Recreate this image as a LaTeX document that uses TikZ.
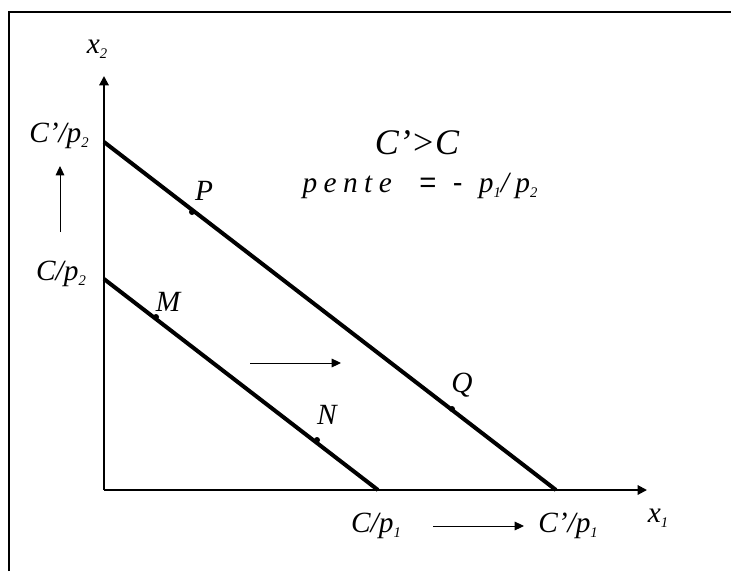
\documentclass[tikz,border=0pt]{standalone}
\usepackage{fontspec}
\setmainfont{Liberation Serif}
\newfontfamily\spacedfont[LetterSpace=22]{Liberation Serif}
\newfontfamily\signfont{Liberation Sans}
\usetikzlibrary{arrows.meta}
\newcommand{\lowidx}[1]{\raisebox{-0.35ex}{\fontsize{11}{11}\selectfont #1}}
\begin{document}
\begin{tikzpicture}[x=0.75pt, y=-0.75pt,
			lab/.style={inner sep=0pt, font=\fontsize{22}{24}\selectfont\itshape},
			axis/.style={line width=1.5pt, -{Triangle[length=7pt, width=7pt]}},
			budget/.style={line width=3pt},
			movearrow/.style={line width=0.75pt, -{Triangle[length=7pt, width=6.5pt]}},
			pt/.style={circle, fill, inner sep=0pt, minimum size=4.5pt}]

		\useasboundingbox (0,0) rectangle (731,571);

		% ===== ramka =====
		\draw[line width=2pt] (9,571) -- (9,12) -- (731,12);

		% ===== osie =====
		\coordinate (O) at (104,490);
		\coordinate (Y) at (104,76);
		\coordinate (X) at (647,490);
		\draw[axis] (O) -- (Y);
		\draw[axis] (O) -- (X);
		\node[lab] (x2) at (97,49) {x\lowidx{2}};
		\node[lab] (x1) at (658,518) {x\lowidx{1}};

		% ===== proste budzetowe =====
		\coordinate (A1) at (104,279);
		\coordinate (B1) at (378,490);
		\coordinate (A2) at (104,142);
		\coordinate (B2) at (556,490);
		\draw[budget] (A1) -- (B1);
		\draw[budget] (A2) -- (B2);

		\node[pt] (m) at (156,317) {};
		\node[pt] (n) at (317,440) {};
		\node[pt] (p) at (192,212) {};
		\node[pt] (q) at (452,409) {};
		\node[lab] at (168,302) {M};
		\node[lab] at (327,415) {N};
		\node[lab] at (204,191) {P};
		\node[lab] at (462,385) {Q};

		% ===== opisy osi =====
		\node[lab] (c2p) at (59,136) {C’/p\lowidx{2}};
		\node[lab] (c2) at (61,274) {C/p\lowidx{2}};
		\node[lab] (c1) at (376,526) {C/p\lowidx{1}};
		\node[lab] (c1p) at (568,526) {C’/p\lowidx{1}};

		% ===== przesuniecie =====
		\coordinate (u1) at (60,232);
		\coordinate (u2) at (60,166);
		\draw[movearrow] (u1) -- (u2);
		\coordinate (h1) at (250,363);
		\coordinate (h2) at (341,363);
		\draw[movearrow] (h1) -- (h2);
		\coordinate (d1) at (433,526);
		\coordinate (d2) at (524,526);
		\draw[movearrow] (d1) -- (d2);

		% ===== tekst =====
		\node[lab, font=\fontsize{27}{30}\selectfont\itshape] (cc) at (417,143) {C’>C};
		\node[lab] (pente) at (420,186) {\spacedfont\itshape pente\ \ \upshape\signfont=\ \ -\ \ \spacedfont\itshape p\lowidx{1}/p\lowidx{2}};
	\end{tikzpicture}
\end{document}
